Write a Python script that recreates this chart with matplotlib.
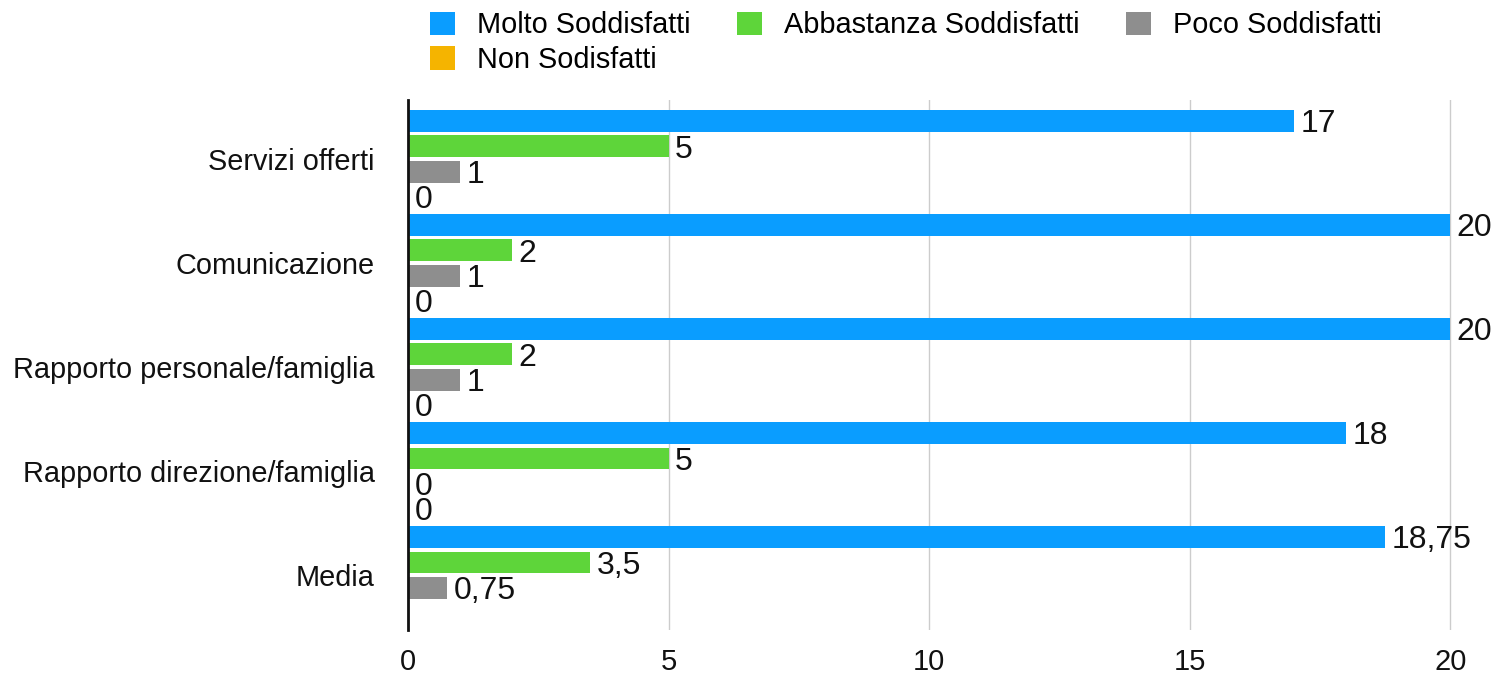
import numpy as np
import matplotlib.pyplot as plt

categories = ["Servizi offerti", "Comunicazione", "Rapporto personale/famiglia",
              "Rapporto direzione/famiglia", "Media"]
series_names = ["Molto Soddisfatti", "Abbastanza Soddisfatti", "Poco Soddisfatti", "Non Sodisfatti"]
molto = [17, 20, 20, 18, 18.75]
abbastanza = [5, 2, 2, 5, 3.5]
poco = [1, 1, 1, 0, 0.75]
non_sod = [0, 0, 0, 0, 0]
colors = ["#0A9DFF", "#5ED53A", "#8E8E8E", "#F5B400"]


def fmt(v):
    return ("%g" % v).replace(".", ",")


def main():
    plt.rcParams['font.family'] = ['Liberation Sans', 'DejaVu Sans']
    fig = plt.figure(figsize=(14.98, 6.74), dpi=100)
    ax = fig.add_axes([0.2724, 0.065, 0.6975, 0.787])

    series = [molto, abbastanza, poco, non_sod]
    y = np.arange(len(categories))
    pitch = 0.243
    height = 0.21
    bars = []
    for k, (vals, name, col) in enumerate(zip(series, series_names, colors)):
        pos = y + (k - 1.5) * pitch
        b = ax.barh(pos, vals, height=height, color=col, label=name, zorder=3)
        bars.append(b)
        for i, (p, v) in enumerate(zip(pos, vals)):
            # the last label (Media / Non Sodisfatti) is not shown in the original
            if k == 3 and i == len(categories) - 1:
                continue
            ax.text(v + 0.12, p + 0.03, fmt(v), va='center', ha='left',
                    fontsize=23, color='#111111', clip_on=False, zorder=4)

    ax.set_xlim(0, 20.05)
    ax.set_ylim(4.53, -0.57)
    ax.set_xticks([0, 5, 10, 15, 20])
    ax.set_yticks(y)
    ax.set_yticklabels(categories, fontsize=20.8)
    ax.tick_params(axis='both', length=0, colors='#111111')
    ax.tick_params(axis='x', labelsize=21, pad=13)
    ax.tick_params(axis='y', pad=24)
    ax.grid(axis='x', color='#cccccc', linewidth=1, zorder=0)
    for s in ['top', 'right', 'bottom']:
        ax.spines[s].set_visible(False)
    ax.spines['left'].set_linewidth(2)
    ax.spines['left'].set_color('#111111')
    ax.spines['left'].set_zorder(5)

    # legend filled row by row: reorder for matplotlib's column-major fill
    order = [0, 3, 1, 2]
    fig.legend([bars[i] for i in order], [series_names[i] for i in order],
               loc='upper left', bbox_to_anchor=(0.287, 0.983), ncol=3, frameon=False,
               fontsize=20.8, handlelength=0.87, handleheight=0.87, handletextpad=0.76,
               columnspacing=1.6, labelspacing=0.22, borderpad=0, borderaxespad=0)

    fig.savefig("out.png", dpi=100)


if __name__ == '__main__':
    main()
